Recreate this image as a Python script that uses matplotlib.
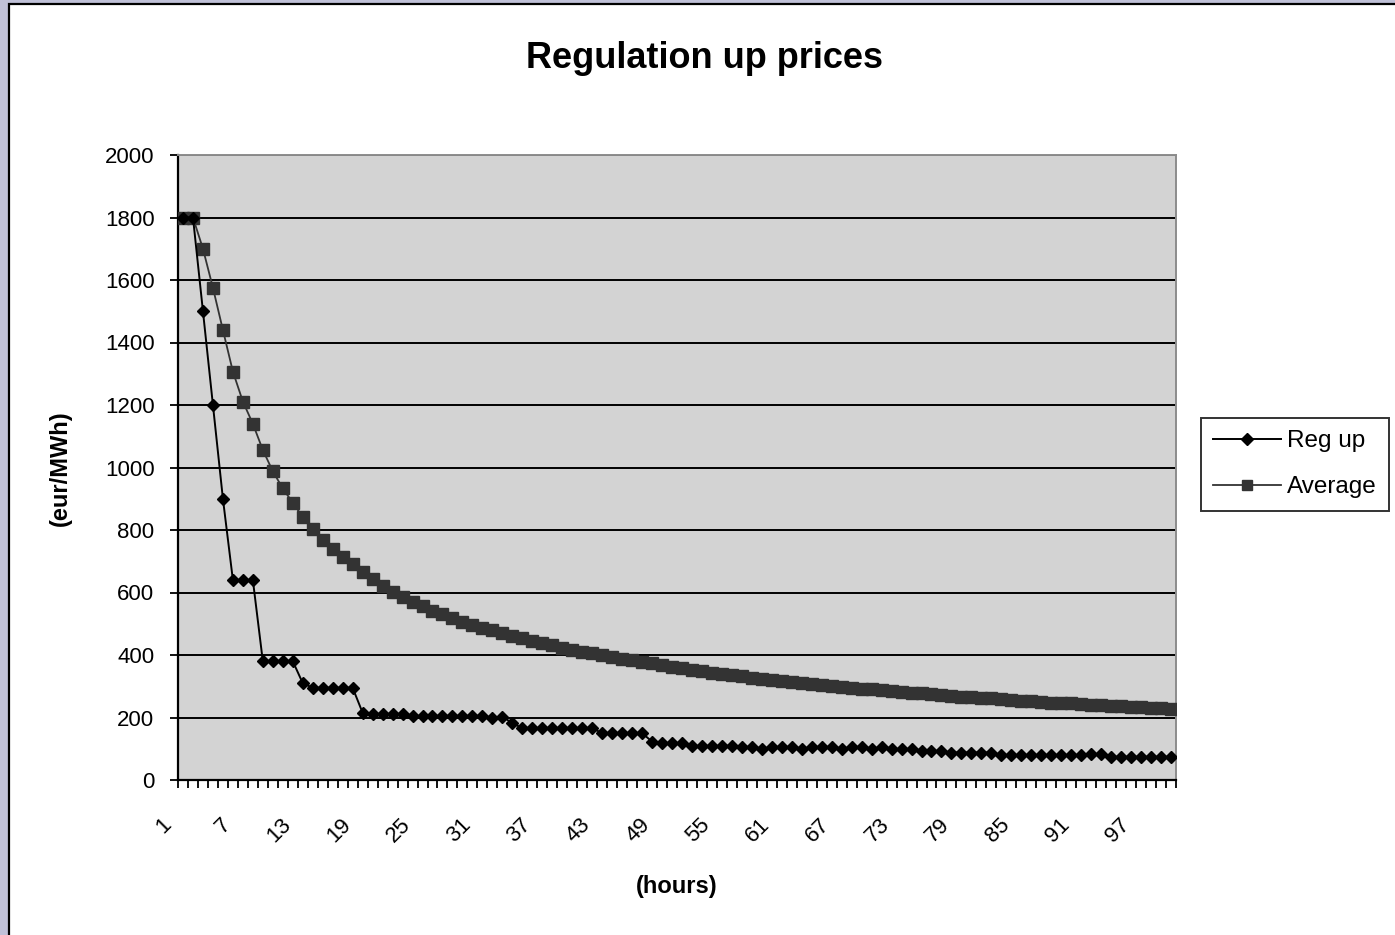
import numpy as np
import matplotlib
matplotlib.use("Agg")
import matplotlib.pyplot as plt
from matplotlib.patches import Rectangle
from matplotlib.transforms import ScaledTranslation

plt.rcParams['font.family'] = ['Liberation Sans', 'DejaVu Sans']

# hours 1..100
hours = list(range(1, 101))

# regulation up price per hour (eur/MWh)
reg_up = [1800, 1800, 1500, 1200, 900, 640, 640, 640, 380, 380,
          380, 380, 310, 295, 295, 295, 295, 295, 215, 210,
          210, 210, 210, 205, 205, 205, 205, 205, 205, 205,
          205, 198, 203, 182, 166, 166, 166, 166, 166, 166,
          166, 166, 150, 150, 150, 150, 150, 123, 117, 117,
          117, 108, 108, 108, 108, 110, 105, 105, 100, 105,
          105, 105, 100, 105, 105, 105, 100, 105, 105, 100,
          105, 98, 98, 98, 92, 92, 92, 88, 88, 88,
          88, 88, 80, 80, 80, 80, 80, 80, 80, 80,
          80, 82, 82, 74, 74, 74, 74, 74, 74, 74]

# running average curve
average = [1800, 1800, 1700, 1575, 1440, 1307, 1211, 1140, 1056, 988,
           933, 887, 842, 803, 769, 740, 714, 690, 665, 643,
           622, 603, 586, 570, 556, 542, 530, 518, 507, 497,
           488, 479, 470, 462, 453, 445, 438, 431, 424, 417,
           411, 406, 400, 394, 388, 383, 378, 373, 368, 363,
           358, 353, 349, 344, 340, 336, 332, 328, 324, 320,
           317, 313, 310, 307, 304, 301, 298, 295, 292, 290,
           287, 284, 282, 279, 277, 274, 272, 270, 267, 265,
           263, 261, 259, 256, 254, 252, 250, 248, 247, 245,
           243, 241, 239, 238, 236, 234, 233, 231, 229, 228]

y_ticks = list(range(0, 2001, 200))
x_label_ticks = list(range(1, 101, 6))

W, H = 1395, 935
fig = plt.figure(figsize=(W / 100, H / 100), dpi=100)
fig.patch.set_facecolor('#c0c1d8')
# white chart area with black frame, slightly inset from the top-left
fig.patches.append(Rectangle((9 / W, -0.05), 1.1, 1 - 4 / H + 0.05,
                             transform=fig.transFigure, facecolor='white',
                             edgecolor='black', linewidth=1.6, zorder=-5))

ax = fig.add_axes([178 / W, 1 - 780 / H, (1176 - 178) / W, (780 - 155) / H])
ax.set_facecolor('#d3d3d3')

ax.plot(hours, reg_up, color='black', lw=1.4, marker='D', markersize=6.5,
        label='Reg up', zorder=4)
ax.plot(hours, average, color='#333333', lw=1.3, marker='s', markersize=8.5,
        label='Average', zorder=3)

ax.set_xlim(0.5, 100.5)
ax.set_ylim(0, 2000)
ax.set_yticks(y_ticks)
ax.set_yticklabels([str(v) for v in y_ticks])
ax.yaxis.grid(True, color='black', lw=1.4)
ax.set_axisbelow(True)

ax.set_xticks(x_label_ticks)
ax.set_xticklabels([str(v) for v in x_label_ticks], rotation=45,
                   ha='right', va='center', rotation_mode='anchor')
ax.set_xticks(np.arange(0.5, 101, 1), minor=True)
ax.tick_params(axis='x', which='major', length=0, pad=30, labelsize=16)
ax.tick_params(axis='x', which='minor', length=6, width=1.3, direction='out')
ax.tick_params(axis='y', length=6, width=1.3, pad=11, labelsize=16)
for lab in ax.get_xticklabels():
    lab.set_transform(lab.get_transform() +
                      ScaledTranslation(-0.15, 0, fig.dpi_scale_trans))

for side in ['left', 'bottom']:
    ax.spines[side].set_color('black')
    ax.spines[side].set_linewidth(1.6)
for side in ['top', 'right']:
    ax.spines[side].set_color('#8c8c8c')
    ax.spines[side].set_linewidth(1.4)

fig.text(704 / W, 1 - 58 / H, 'Regulation up prices', ha='center',
         va='center', fontsize=26, fontweight='bold')
fig.text(677 / W, 1 - 887 / H, '(hours)', ha='center', va='center',
         fontsize=17, fontweight='bold')
fig.text(60 / W, 1 - 468 / H, '(eur/MWh)', ha='center', va='center',
         fontsize=17, fontweight='bold', rotation=90)

leg = fig.legend(loc='upper left', bbox_to_anchor=(1201 / W, 1 - 418 / H),
                 frameon=True, fancybox=False, edgecolor='black',
                 borderaxespad=0, fontsize=17.5, handlelength=2.8,
                 borderpad=0.5, labelspacing=1.0, handletextpad=0.25,
                 markerscale=0.9)
leg.get_frame().set_linewidth(1.4)

fig.savefig('out.png', dpi=100, facecolor=fig.get_facecolor())
